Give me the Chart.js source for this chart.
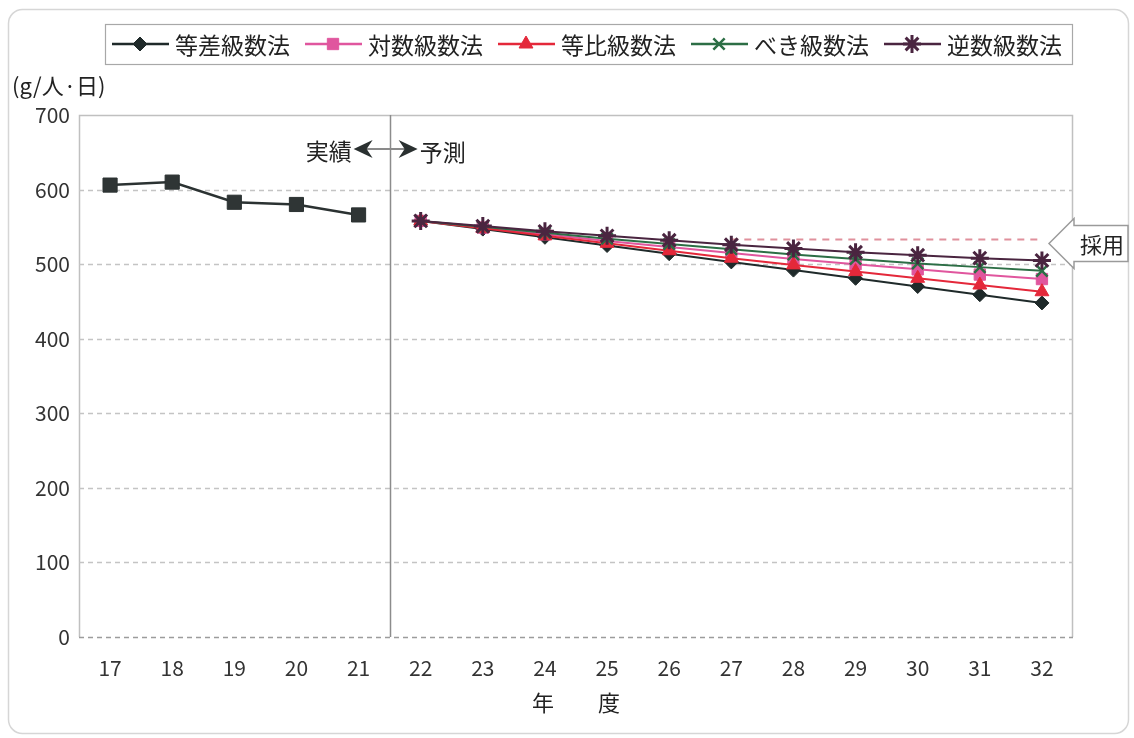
<!DOCTYPE html>
<html>
<head>
<meta charset="utf-8">
<script src="https://cdn.jsdelivr.net/npm/chart.js@4.4.0/dist/chart.umd.min.js"></script>
<style>
  html, body { margin: 0; padding: 0; background: #ffffff; }
  #wrap { width: 1134px; height: 738px; }
</style>
</head>
<body>
<div id="wrap"><canvas id="c" width="1134" height="738"></canvas></div>
<script>
// 年度（平成）
const years = ['17', '18', '19', '20', '21', '22', '23', '24', '25', '26', '27', '28', '29', '30', '31', '32'];
// 実績値 (g/人・日)
const actual = [606, 610, 583, 580, 566, null, null, null, null, null, null, null, null, null, null, null];
// 予測値 (22〜32年度)
const arithmetic = [558, 547, 536, 525, 514, 503, 492, 481, 470, 459, 448];   // 等差級数法
const logarithmic = [558, 549, 540, 531, 523, 515, 507, 500, 493, 486, 480];  // 対数級数法
const geometric = [558, 548, 538, 528, 518, 508, 499, 490, 481, 472, 463];    // 等比級数法
const power = [558, 550, 542, 534, 527, 520, 513, 507, 501, 496, 491];        // べき級数法
const reciprocal = [558, 551, 544, 538, 532, 526, 521, 516, 512, 508, 505];   // 逆数級数法
// 採用値
const adopted = [null, null, null, null, null, null, null, null, null, null, 533, 533, 533, 533, 533, 533];
const yTicks = [0, 100, 200, 300, 400, 500, 600, 700];

const JP = '"Noto Sans CJK JP", "Noto Sans", sans-serif';
const lead = new Array(actual.filter(v => v !== null).length).fill(null);

const series = [
  { label: '等差級数法', data: arithmetic, color: '#1f2a2a', style: 'rectRot', radius: 7, bw: 1 },
  { label: '対数級数法', data: logarithmic, color: '#e0569e', style: 'rect', radius: 8, bw: 1 },
  { label: '等比級数法', data: geometric, color: '#e4283a', style: 'triangle', radius: 8, bw: 1 },
  { label: 'べき級数法', data: power, color: '#2c6e45', style: 'crossRot', radius: 8, bw: 2.5 },
  { label: '逆数級数法', data: reciprocal, color: '#4a2540', style: 'star', radius: 9, bw: 3 }
];

const datasets = series.map((s, i) => ({
  label: s.label,
  data: lead.concat(s.data),
  borderColor: s.color,
  backgroundColor: s.color,
  borderWidth: 2,
  pointStyle: s.style,
  pointRadius: s.radius,
  pointBorderWidth: s.bw,
  pointBackgroundColor: s.color,
  pointBorderColor: s.color,
  tension: 0,
  spanGaps: false,
  order: series.length - i
}));

datasets.push({
  label: '実績',
  data: actual,
  borderColor: '#2b3232',
  backgroundColor: '#2b3232',
  borderWidth: 2.5,
  pointStyle: 'rect',
  pointRadius: 10,
  pointBorderWidth: 1,
  pointBackgroundColor: '#2f3535',
  pointBorderColor: '#2b3232',
  tension: 0,
  order: 0
});

datasets.push({
  label: '採用',
  data: adopted,
  borderColor: '#e0909c',
  borderWidth: 2,
  borderDash: [7, 6],
  pointRadius: 0,
  tension: 0,
  order: 10
});

function marker(ctx, s, x, y) {
  ctx.save();
  ctx.fillStyle = s.color;
  ctx.strokeStyle = s.color;
  ctx.lineWidth = s.bw;
  Chart.helpers.drawPoint(ctx, { pointStyle: s.style, radius: s.radius, rotation: 0, borderWidth: s.bw }, x, y);
  ctx.restore();
}

const decor = {
  id: 'decor',
  beforeDraw(chart) {
    const ctx = chart.ctx;
    ctx.save();
    ctx.fillStyle = '#ffffff';
    ctx.fillRect(0, 0, chart.width, chart.height);
    // outer frame
    ctx.strokeStyle = '#d6d6d6';
    ctx.lineWidth = 1.5;
    ctx.beginPath();
    ctx.roundRect(8.5, 9.5, 1120, 724, 14);
    ctx.stroke();
    ctx.restore();
  },
  beforeDatasetsDraw(chart) {
    const ctx = chart.ctx;
    const { left, right, top, bottom } = chart.chartArea;
    const ys = chart.scales.y;
    ctx.save();
    // plot frame
    ctx.strokeStyle = '#c0c0c0';
    ctx.lineWidth = 1.5;
    ctx.beginPath();
    ctx.moveTo(left + 0.5, bottom);
    ctx.lineTo(left + 0.5, top + 0.5);
    ctx.lineTo(right - 0.5, top + 0.5);
    ctx.lineTo(right - 0.5, bottom);
    ctx.stroke();
    // horizontal grid
    ctx.setLineDash([5, 4]);
    yTicks.forEach(v => {
      if (v === 700) return;
      const py = Math.round(ys.getPixelForValue(v)) + 0.5;
      ctx.strokeStyle = v === 0 ? '#9c9c9c' : '#c4c4c4';
      ctx.lineWidth = v === 0 ? 1.5 : 1.3;
      ctx.beginPath();
      ctx.moveTo(left, py);
      ctx.lineTo(right, py);
      ctx.stroke();
    });
    ctx.setLineDash([]);
    // 実績/予測 boundary
    const xs = chart.scales.x;
    const sep = Math.round((xs.getPixelForValue(4) + xs.getPixelForValue(5)) / 2) + 0.5;
    ctx.strokeStyle = '#8c8c8c';
    ctx.lineWidth = 1.5;
    ctx.beginPath();
    ctx.moveTo(sep, top);
    ctx.lineTo(sep, bottom);
    ctx.stroke();
    ctx.restore();
  },
  afterDraw(chart) {
    const ctx = chart.ctx;
    const { left, right, top, bottom } = chart.chartArea;
    const xs = chart.scales.x;
    const ys = chart.scales.y;
    ctx.save();

    // unit label
    ctx.fillStyle = '#222';
    ctx.font = '22px ' + JP;
    ctx.textAlign = 'left';
    ctx.textBaseline = 'middle';
    ctx.fillText('(g/人·日)', 12, 86);

    // x axis title
    ctx.textAlign = 'center';
    ctx.font = '22px ' + JP;
    ctx.fillText('年　　度', (left + right) / 2, 703);

    // 実績 ◀─▶ 予測
    const sep = (xs.getPixelForValue(4) + xs.getPixelForValue(5)) / 2;
    const ay = 149;
    const lt = sep - 36, rt = sep + 28;
    ctx.strokeStyle = '#8a8a8a';
    ctx.lineWidth = 2;
    ctx.beginPath();
    ctx.moveTo(lt + 10, ay);
    ctx.lineTo(rt - 10, ay);
    ctx.stroke();
    ctx.fillStyle = '#2a3030';
    const head = (tip, dir) => {
      ctx.beginPath();
      ctx.moveTo(tip, ay);
      ctx.lineTo(tip + dir * 19, ay - 9);
      ctx.lineTo(tip + dir * 13, ay);
      ctx.lineTo(tip + dir * 19, ay + 9);
      ctx.closePath();
      ctx.fill();
    };
    head(lt, 1);
    head(rt, -1);
    ctx.fillStyle = '#222';
    ctx.font = '23px ' + JP;
    ctx.textBaseline = 'middle';
    ctx.textAlign = 'right';
    ctx.fillText('実績', lt - 2, ay + 2);
    ctx.textAlign = 'left';
    ctx.fillText('予測', rt + 2, ay + 3);

    // 採用 callout
    const cy = ys.getPixelForValue(adopted[adopted.length - 1]) + 4;
    const tipX = right - 24, bx = right + 1, ex = right + 55;
    ctx.beginPath();
    ctx.moveTo(tipX, cy);
    ctx.lineTo(bx, cy - 25);
    ctx.lineTo(bx, cy - 18);
    ctx.lineTo(ex, cy - 18);
    ctx.lineTo(ex, cy + 18);
    ctx.lineTo(bx, cy + 18);
    ctx.lineTo(bx, cy + 25);
    ctx.closePath();
    ctx.fillStyle = '#ffffff';
    ctx.fill();
    ctx.strokeStyle = '#9a9a9a';
    ctx.lineWidth = 1.5;
    ctx.stroke();
    ctx.fillStyle = '#222';
    ctx.font = '22px ' + JP;
    ctx.textAlign = 'center';
    ctx.fillText('採用', (bx + ex) / 2 + 1, cy + 1);

    // legend
    const ly = 44;
    ctx.fillStyle = '#ffffff';
    ctx.strokeStyle = '#a8a8a8';
    ctx.lineWidth = 1.2;
    ctx.fillRect(105, 24, 967, 40);
    ctx.strokeRect(105.5, 24.5, 967, 40);
    ctx.font = '23px ' + JP;
    ctx.textAlign = 'left';
    let x = 112;
    series.forEach(s => {
      ctx.strokeStyle = s.color;
      ctx.lineWidth = 2.5;
      ctx.beginPath();
      ctx.moveTo(x, ly);
      ctx.lineTo(x + 57, ly);
      ctx.stroke();
      marker(ctx, s, x + 28, ly);
      ctx.fillStyle = '#222';
      ctx.fillText(s.label, x + 63, ly + 1);
      x += 63 + ctx.measureText(s.label).width + 15;
    });
    ctx.restore();
  }
};

new Chart(document.getElementById('c'), {
  type: 'line',
  data: { labels: years, datasets },
  options: {
    responsive: false,
    animation: false,
    devicePixelRatio: 1,
    layout: { padding: { top: 115, right: 61, bottom: 0, left: 0 } },
    plugins: {
      legend: { display: false },
      tooltip: { enabled: false },
      title: { display: false }
    },
    scales: {
      x: {
        offset: true,
        grid: { display: false, drawTicks: false },
        border: { display: false },
        ticks: { color: '#333', font: { family: JP, size: 21 }, padding: 18, maxRotation: 0, autoSkip: false },
        afterFit(s) { s.height = 101; }
      },
      y: {
        min: 0,
        max: 700,
        afterBuildTicks(s) { s.ticks = yTicks.map(v => ({ value: v })); },
        grid: { display: false, drawTicks: false },
        border: { display: false },
        ticks: { color: '#333', font: { family: JP, size: 21 }, padding: 9 },
        afterFit(s) { s.width = 79; }
      }
    }
  },
  plugins: [decor]
});
</script>
</body>
</html>
